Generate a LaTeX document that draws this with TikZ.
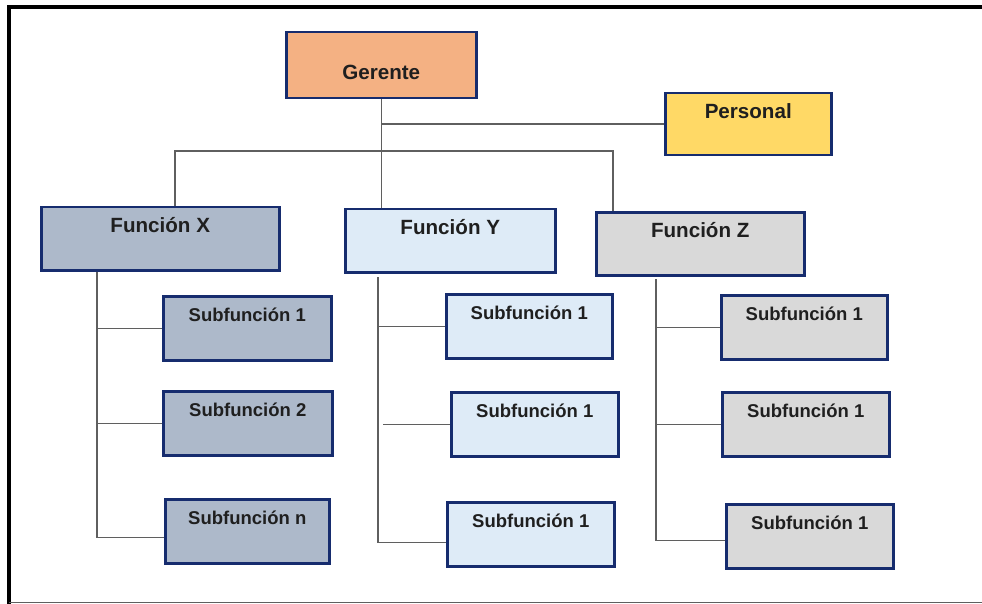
\documentclass[tikz,border=0pt]{standalone}
\usepackage{fontspec}
\setmainfont{Liberation Sans}
\usepackage{tikz}

\definecolor{navy}{RGB}{22,44,110}
\definecolor{linegray}{RGB}{95,95,95}
\definecolor{gerfill}{RGB}{244,177,131}
\definecolor{perfill}{RGB}{255,217,102}
\definecolor{xfill}{RGB}{173,185,202}
\definecolor{yfill}{RGB}{222,235,247}
\definecolor{zfill}{RGB}{217,217,217}

\tikzset{
  unit/.style={draw=navy, line width=2.5pt, anchor=north west, inner sep=0pt,
    font=\fontsize{20.6}{24}\selectfont\bfseries, text=black!88,
    text height=25pt, text depth=38pt},
  subunit/.style={unit, font=\fontsize{18.5}{22}\selectfont\bfseries, text depth=39pt},
  link/.style={draw=linegray, line width=1.5pt}
}

\begin{document}
\begin{tikzpicture}[x=1pt,y=-1pt]
  \useasboundingbox (0,0) rectangle (982,604);
  % frame
  \draw[line width=4pt] (9,604) -- (9,7) -- (982,7);
  \draw[linegray, line width=1.5pt] (9,602.5) -- (982,602.5);

  \node[unit, fill=gerfill, minimum width=190pt, text height=47pt, text depth=19pt] (ger) at (285,31) {Gerente};
  \node[unit, fill=perfill, minimum width=166pt, text depth=37pt] (per) at (664,92) {Personal};

  \node[unit, fill=xfill, minimum width=238pt] (fx) at (40,206) {Función X};
  \node[unit, fill=yfill, minimum width=210pt] (fy) at (344,208) {Función Y};
  \node[unit, fill=zfill, minimum width=208pt] (fz) at (595,211) {Función Z};

  \node[subunit, fill=xfill, minimum width=168pt] (sx1) at (162,295) {Subfunción 1};
  \node[subunit, fill=xfill, minimum width=169pt] (sx2) at (162,390) {Subfunción 2};
  \node[subunit, fill=xfill, minimum width=164pt] (sxn) at (164,498) {Subfunción n};

  \node[subunit, fill=yfill, minimum width=166pt] (sy1) at (445,293) {Subfunción 1};
  \node[subunit, fill=yfill, minimum width=167pt] (sy2) at (450,391) {Subfunción 1};
  \node[subunit, fill=yfill, minimum width=167pt] (sy3) at (446,501) {Subfunción 1};

  \node[subunit, fill=zfill, minimum width=166pt] (sz1) at (720,294) {Subfunción 1};
  \node[subunit, fill=zfill, minimum width=167pt] (sz2) at (721,391) {Subfunción 1};
  \node[subunit, fill=zfill, minimum width=167pt] (sz3) at (725,503) {Subfunción 1};

  % top level
  \coordinate (busL) at (175,151);
  \coordinate (busR) at (613,151);
  \draw[link] (ger.south) -- (ger.south |- fy.north);
  \draw[link] (ger.south |- per.west) -- (per.west);
  \draw[link] (busL |- fx.north) |- (busR) -- (busR |- fz.north);

  % branches
  \coordinate (xsp) at (97,0);
  \coordinate (ysp) at (378,277);
  \coordinate (zsp) at (656,279);
  \draw[link] (xsp |- fx.south) |- ([yshift=-6pt]sxn.west);
  \draw[link] (xsp |- sx1.west) -- (sx1.west);
  \draw[link] (xsp |- sx2.west) -- (sx2.west);
  \draw[link] (ysp) |- ([yshift=-8pt]sy3.west);
  \draw[link] (ysp |- sy1.west) -- (sy1.west);
  \draw[link] ([xshift=5pt]ysp |- sy2.west) -- (sy2.west);
  \draw[link] (zsp) |- ([yshift=-4pt]sz3.west);
  \draw[link] (zsp |- sz1.west) -- (sz1.west);
  \draw[link] (zsp |- sz2.west) -- (sz2.west);
\end{tikzpicture}
\end{document}
